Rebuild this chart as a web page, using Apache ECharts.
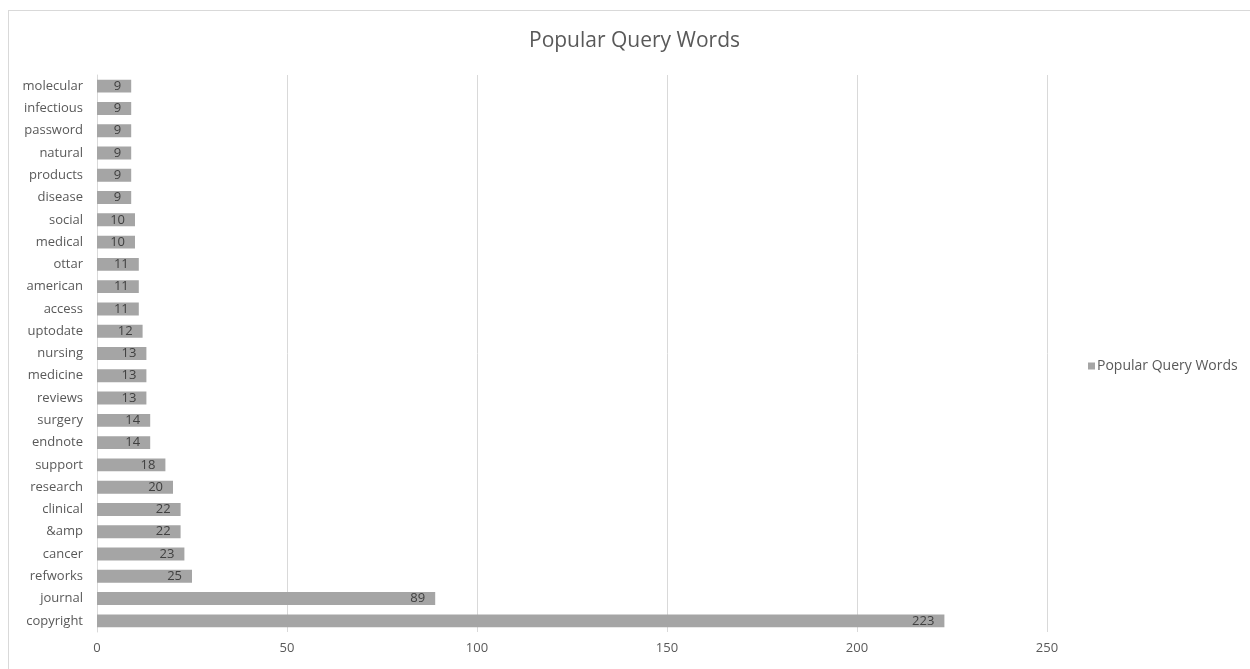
<!DOCTYPE html>
<html>
<head>
<meta charset="utf-8">
<script src="https://cdn.jsdelivr.net/npm/echarts@6/dist/echarts.min.js"></script>
<style>
  html, body { margin: 0; padding: 0; background: #fff; }
  #frame { position: absolute; left: 8px; top: 10px; width: 1250px; height: 670px; border: 1px solid #d9d9d9; box-sizing: border-box; }
  #chart { position: absolute; left: 0; top: 0; width: 1250px; height: 669px; }
</style>
</head>
<body>
<div id="frame"></div>
<div id="chart"></div>
<script>
// categories bottom -> top, as echarts draws a category yAxis
const words = ['copyright', 'journal', 'refworks', 'cancer', '&amp', 'clinical', 'research', 'support',
    'endnote', 'surgery', 'reviews', 'medicine', 'nursing', 'uptodate', 'access', 'american', 'ottar',
    'medical', 'social', 'disease', 'products', 'natural', 'password', 'infectious', 'molecular'];
const counts = [223, 89, 25, 23, 22, 22, 20, 18, 14, 14, 13, 13, 13, 12, 11, 11, 11, 10, 10, 9, 9, 9, 9, 9, 9];
const xTicks = [0, 50, 100, 150, 200, 250];

const font = '"Open Sans", "Liberation Sans", sans-serif';

let chart = echarts.init(document.getElementById('chart'));
chart.setOption({
    animation: false,
    textStyle: { fontFamily: font },
    title: {
        text: 'Popular Query Words',
        left: 524,
        top: 26,
        textStyle: { fontFamily: font, fontSize: 21, fontWeight: 'normal', color: '#595959' }
    },
    legend: {
        orient: 'vertical',
        left: 1083,
        top: 354,
        itemWidth: 7,
        itemHeight: 7,
        itemGap: 4,
        icon: 'rect',
        textStyle: { fontFamily: font, fontSize: 14, color: '#595959', padding: [0, 0, 0, -3] },
        data: ['Popular Query Words']
    },
    grid: {
        left: 97,
        right: 203,
        top: 75,
        bottom: 37,
        containLabel: false
    },
    xAxis: {
        type: 'value',
        min: xTicks[0],
        max: xTicks[xTicks.length - 1],
        interval: 50,
        axisLine: { show: false },
        axisTick: { show: false },
        axisLabel: { color: '#595959', fontSize: 13, fontFamily: font, margin: 10 },
        splitLine: { lineStyle: { color: '#d9d9d9', width: 1 } }
    },
    yAxis: {
        type: 'category',
        data: words,
        axisLine: { lineStyle: { color: '#d9d9d9' } },
        axisTick: { show: false },
        axisLabel: { color: '#595959', fontSize: 13, fontFamily: font, margin: 14, interval: 0 }
    },
    series: [
        {
            name: 'Popular Query Words',
            type: 'bar',
            data: counts,
            barCategoryGap: '42%',
            itemStyle: { color: '#a5a5a5' },
            label: {
                show: true,
                position: 'insideRight',
                distance: 10,
                color: '#404040',
                fontSize: 13,
                fontFamily: font
            }
        }
    ]
});
</script>
</body>
</html>
